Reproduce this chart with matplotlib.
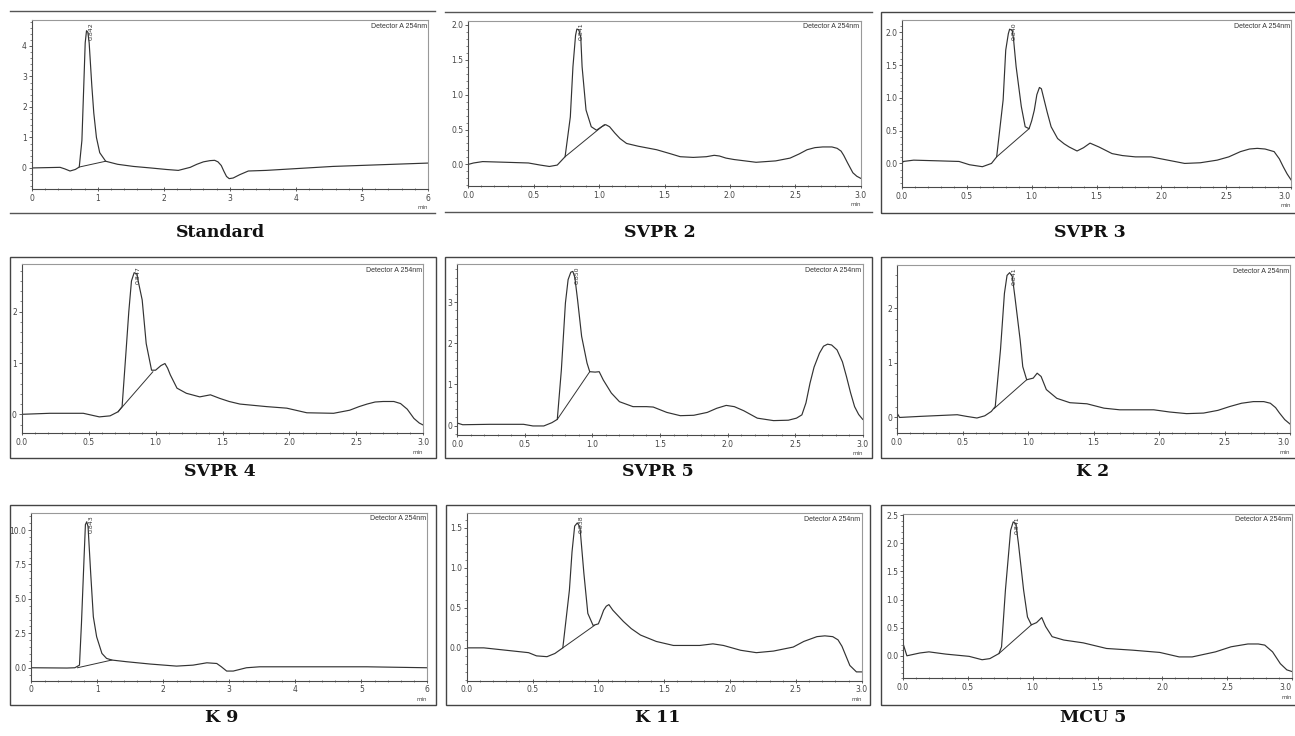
import matplotlib
matplotlib.use("Agg")
import numpy as np
import matplotlib.pyplot as plt
from matplotlib.lines import Line2D
from matplotlib.patches import Rectangle
from matplotlib.ticker import AutoMinorLocator, MultipleLocator

W, H = 1295, 736
DETECTOR = "Detector A 254nm"

# ---- chromatogram traces (time in min, absorbance) ----
std_t = [0.0, 0.43, 0.5, 0.58, 0.66, 0.72, 0.76, 0.79, 0.81, 0.83, 0.85, 0.87, 0.89,
         0.91, 0.94, 0.98, 1.03, 1.12, 1.3, 1.54, 1.8, 2.04, 2.22, 2.4, 2.5, 2.6,
         2.7, 2.77, 2.82, 2.87, 2.91, 2.95, 2.99, 3.05, 3.15, 3.28, 3.55, 4.56, 6.0]
std_y = [0.0, 0.02, -0.03, -0.1, -0.05, 0.03, 0.9, 2.8, 4.1, 4.5, 4.45, 4.1, 3.4,
         2.7, 1.8, 1.0, 0.5, 0.22, 0.12, 0.05, 0.0, -0.05, -0.08, 0.02, 0.12, 0.2,
         0.24, 0.25, 0.2, 0.08, -0.11, -0.28, -0.35, -0.33, -0.22, -0.1, -0.08,
         0.05, 0.16]
std_base_t = [0.72, 1.12]
std_base_y = [0.03, 0.22]

svpr2_t = [0.0, 0.04, 0.11, 0.29, 0.46, 0.55, 0.62, 0.68, 0.74, 0.78, 0.8, 0.82,
           0.83, 0.845, 0.86, 0.87, 0.9, 0.94, 0.98, 1.02, 1.05, 1.08, 1.12, 1.16,
           1.21, 1.3, 1.44, 1.55, 1.62, 1.72, 1.82, 1.88, 1.92, 1.97, 2.03, 2.2,
           2.35, 2.46, 2.53, 2.59, 2.65, 2.71, 2.78, 2.82, 2.85, 2.87, 2.9, 2.94,
           2.97, 3.0]
svpr2_y = [0.0, 0.02, 0.04, 0.03, 0.02, -0.01, -0.03, -0.01, 0.11, 0.68, 1.4, 1.85,
           1.94, 1.93, 1.82, 1.4, 0.78, 0.54, 0.49, 0.54, 0.57, 0.54, 0.45, 0.37,
           0.3, 0.26, 0.21, 0.15, 0.11, 0.1, 0.11, 0.13, 0.12, 0.09, 0.07, 0.03,
           0.05, 0.09, 0.15, 0.21, 0.24, 0.25, 0.25, 0.23, 0.19, 0.13, 0.02, -0.12,
           -0.17, -0.2]
svpr2_base_t = [0.74, 1.04]
svpr2_base_y = [0.11, 0.57]

svpr3_t = [0.0, 0.01, 0.09, 0.27, 0.44, 0.52, 0.62, 0.69, 0.73, 0.78, 0.8, 0.82,
           0.83, 0.85, 0.86, 0.88, 0.92, 0.95, 0.98, 1.0, 1.02, 1.04, 1.06, 1.075,
           1.09, 1.12, 1.15, 1.2, 1.25, 1.29, 1.35, 1.4, 1.45, 1.52, 1.62, 1.7,
           1.8, 1.92, 2.05, 2.18, 2.3, 2.43, 2.52, 2.61, 2.68, 2.74, 2.8, 2.87,
           2.91, 2.94, 2.97, 3.0]
svpr3_y = [0.0, 0.03, 0.05, 0.04, 0.03, -0.02, -0.05, 0.0, 0.1, 0.97, 1.73, 1.98,
           2.05, 2.03, 1.9, 1.48, 0.87, 0.56, 0.53, 0.65, 0.81, 1.05, 1.16, 1.14,
           1.02, 0.78, 0.56, 0.38, 0.3, 0.25, 0.19, 0.24, 0.31, 0.25, 0.15, 0.12,
           0.1, 0.1, 0.05, 0.0, 0.01, 0.05, 0.1, 0.18, 0.22, 0.23, 0.22, 0.18,
           0.07, -0.05, -0.16, -0.25]
svpr3_base_t = [0.73, 0.98]
svpr3_base_y = [0.1, 0.53]

svpr4_t = [0.0, 0.21, 0.46, 0.58, 0.66, 0.72, 0.75, 0.78, 0.8, 0.82, 0.84, 0.86,
           0.87, 0.9, 0.93, 0.97, 1.0, 1.04, 1.07, 1.09, 1.11, 1.16, 1.23, 1.33,
           1.41, 1.48, 1.55, 1.63, 1.83, 1.98, 2.13, 2.33, 2.45, 2.52, 2.58, 2.64,
           2.7, 2.78, 2.83, 2.88, 2.93, 2.97, 3.0]
svpr4_y = [0.0, 0.02, 0.02, -0.05, -0.03, 0.05, 0.15, 1.25, 2.0, 2.6, 2.76, 2.74,
           2.6, 2.23, 1.38, 0.86, 0.86, 0.95, 0.99, 0.9, 0.77, 0.51, 0.41, 0.34,
           0.38, 0.31, 0.25, 0.2, 0.15, 0.12, 0.03, 0.02, 0.08, 0.15, 0.2, 0.24,
           0.25, 0.25, 0.21, 0.1, -0.08, -0.17, -0.21]
svpr4_base_t = [0.72, 0.98]
svpr4_base_y = [0.05, 0.83]

svpr5_t = [0.0, 0.04, 0.24, 0.49, 0.56, 0.64, 0.7, 0.74, 0.77, 0.8, 0.82, 0.84,
           0.855, 0.87, 0.89, 0.92, 0.96, 0.98, 1.02, 1.05, 1.08, 1.14, 1.2, 1.3,
           1.4, 1.45, 1.55, 1.65, 1.75, 1.85, 1.92, 1.99, 2.05, 2.12, 2.22, 2.34,
           2.45, 2.51, 2.55, 2.58, 2.61, 2.64, 2.68, 2.71, 2.74, 2.77, 2.81, 2.85,
           2.88, 2.91, 2.94, 2.97, 3.0]
svpr5_y = [0.06, 0.02, 0.03, 0.03, -0.01, -0.01, 0.07, 0.15, 1.35, 2.98, 3.55,
           3.73, 3.75, 3.6, 3.06, 2.17, 1.52, 1.31, 1.3, 1.31, 1.11, 0.79, 0.58,
           0.46, 0.46, 0.45, 0.32, 0.24, 0.25, 0.32, 0.42, 0.49, 0.46, 0.36, 0.18,
           0.12, 0.13, 0.18, 0.26, 0.55, 1.03, 1.42, 1.76, 1.93, 1.98, 1.96, 1.84,
           1.55, 1.19, 0.8, 0.46, 0.27, 0.15]
svpr5_base_t = [0.74, 0.98]
svpr5_base_y = [0.15, 1.31]

k2_t = [0.0, 0.02, 0.18, 0.46, 0.53, 0.61, 0.67, 0.72, 0.75, 0.79, 0.82, 0.84,
        0.86, 0.88, 0.9, 0.94, 0.96, 0.99, 1.04, 1.07, 1.1, 1.14, 1.22, 1.32, 1.45,
        1.58, 1.7, 1.96, 2.08, 2.21, 2.34, 2.45, 2.54, 2.63, 2.72, 2.8, 2.85, 2.89,
        2.92, 2.96, 3.0]
k2_y = [0.08, 0.0, 0.02, 0.05, 0.02, -0.01, 0.03, 0.11, 0.2, 1.24, 2.27, 2.6,
        2.65, 2.58, 2.21, 1.42, 0.93, 0.69, 0.72, 0.81, 0.75, 0.51, 0.35, 0.27,
        0.25, 0.17, 0.14, 0.14, 0.1, 0.07, 0.08, 0.13, 0.2, 0.26, 0.29, 0.29, 0.26,
        0.18, 0.08, -0.04, -0.12]
k2_base_t = [0.74, 0.99]
k2_base_y = [0.16, 0.69]

k9_t = [0.0, 0.54, 0.66, 0.73, 0.76, 0.8, 0.82, 0.84, 0.86, 0.9, 0.94, 0.99, 1.07,
        1.14, 1.22, 1.44, 1.8, 2.2, 2.45, 2.66, 2.81, 2.88, 2.96, 3.06, 3.26, 3.46,
        4.07, 5.08, 6.0]
k9_y = [0.0, -0.02, 0.0, 0.19, 3.22, 8.06, 10.4, 10.6, 10.24, 6.85, 3.7, 2.25,
        1.04, 0.68, 0.56, 0.44, 0.27, 0.12, 0.19, 0.36, 0.31, 0.07, -0.24, -0.24,
        0.0, 0.07, 0.07, 0.07, 0.0]
k9_base_t = [0.7, 1.22]
k9_base_y = [0.0, 0.56]

k11_t = [0.0, 0.13, 0.3, 0.47, 0.53, 0.61, 0.67, 0.73, 0.78, 0.8, 0.82, 0.84, 0.86,
         0.89, 0.92, 0.96, 1.0, 1.02, 1.04, 1.06, 1.08, 1.11, 1.15, 1.19, 1.25,
         1.32, 1.44, 1.57, 1.77, 1.87, 1.95, 2.08, 2.2, 2.33, 2.48, 2.56, 2.66,
         2.72, 2.78, 2.82, 2.85, 2.88, 2.91, 2.96, 3.0]
k11_y = [0.0, 0.0, -0.03, -0.06, -0.1, -0.11, -0.07, 0.0, 0.72, 1.2, 1.52, 1.56,
         1.51, 0.93, 0.43, 0.28, 0.3, 0.38, 0.47, 0.52, 0.54, 0.47, 0.4, 0.33,
         0.24, 0.16, 0.08, 0.03, 0.03, 0.05, 0.03, -0.03, -0.06, -0.04, 0.01,
         0.08, 0.14, 0.15, 0.14, 0.1, 0.02, -0.1, -0.22, -0.3, -0.3]
k11_base_t = [0.73, 0.97]
k11_base_y = [0.0, 0.28]

mcu5_t = [0.0, 0.03, 0.13, 0.2, 0.33, 0.51, 0.61, 0.67, 0.74, 0.76, 0.79, 0.83,
          0.85, 0.87, 0.89, 0.93, 0.96, 0.99, 1.03, 1.07, 1.1, 1.15, 1.24, 1.39,
          1.57, 1.77, 1.98, 2.13, 2.23, 2.41, 2.53, 2.66, 2.74, 2.79, 2.85, 2.91,
          2.96, 3.0]
mcu5_y = [0.22, 0.0, 0.05, 0.07, 0.03, -0.01, -0.07, -0.05, 0.04, 0.16, 1.17,
          2.23, 2.38, 2.35, 2.0, 1.17, 0.69, 0.55, 0.59, 0.68, 0.52, 0.34, 0.28,
          0.23, 0.13, 0.1, 0.06, -0.02, -0.02, 0.07, 0.16, 0.21, 0.21, 0.19, 0.07,
          -0.14, -0.25, -0.28]
mcu5_base_t = [0.74, 0.99]
mcu5_base_y = [0.04, 0.55]

# ---- axis ticks and labels ----
x6_ticks = [0, 1, 2, 3, 4, 5, 6]
x6_labels = ["0", "1", "2", "3", "4", "5", "6"]
x3_ticks = [0.0, 0.5, 1.0, 1.5, 2.0, 2.5, 3.0]
x3_labels = ["0.0", "0.5", "1.0", "1.5", "2.0", "2.5", "3.0"]

std_yticks = [0, 1, 2, 3, 4]
svpr2_yticks = [0.0, 0.5, 1.0, 1.5, 2.0]
svpr3_yticks = [0.0, 0.5, 1.0, 1.5, 2.0]
svpr4_yticks = [0, 1, 2]
svpr5_yticks = [0, 1, 2, 3]
k2_yticks = [0, 1, 2]
k9_yticks = [0.0, 2.5, 5.0, 7.5, 10.0]
k11_yticks = [0.0, 0.5, 1.0, 1.5]
mcu5_yticks = [0.0, 0.5, 1.0, 1.5, 2.0, 2.5]

peak_labels = ["0.842", "0.841", "0.840", "0.847", "0.850", "0.841", "0.843", "0.838", "0.841"]
captions = ["Standard", "SVPR 2", "SVPR 3", "SVPR 4", "SVPR 5", "K 2", "K 9", "K 11", "MCU 5"]

LINE = "#333333"


def px_rect(l, t, r, b):
    return [l / W, 1 - b / H, (r - l) / W, (b - t) / H]


fig = plt.figure(figsize=(W / 100, H / 100), dpi=100, facecolor="white")

# trace data, x range, ticks, axes box px, ylim, frame box px, full frame?, caption centre px
panels = [
    (std_t, std_y, std_base_t, std_base_y, (0, 6), x6_ticks, x6_labels, std_yticks, "{:.0f}",
     (31.7, 20, 428, 189), (-0.69, 4.85), (10, 11, 435, 213), False, (220, 232)),
    (svpr2_t, svpr2_y, svpr2_base_t, svpr2_base_y, (0, 3), x3_ticks, x3_labels, svpr2_yticks, "{:.1f}",
     (468.3, 20.7, 860.7, 186), (-0.31, 2.06), (445, 12, 872, 212), False, (660, 232)),
    (svpr3_t, svpr3_y, svpr3_base_t, svpr3_base_y, (0, 3), x3_ticks, x3_labels, svpr3_yticks, "{:.1f}",
     (902, 20, 1291, 187), (-0.36, 2.19), (881, 12, 1320, 213), True, (1090, 232)),
    (svpr4_t, svpr4_y, svpr4_base_t, svpr4_base_y, (0, 3), x3_ticks, x3_labels, svpr4_yticks, "{:.0f}",
     (21.7, 264, 423.3, 433.3), (-0.37, 2.93), (10, 257, 436, 458), True, (220, 472)),
    (svpr5_t, svpr5_y, svpr5_base_t, svpr5_base_y, (0, 3), x3_ticks, x3_labels, svpr5_yticks, "{:.0f}",
     (457.3, 264, 862.7, 435), (-0.23, 3.93), (445, 257, 872, 458), True, (658, 472)),
    (k2_t, k2_y, k2_base_t, k2_base_y, (0, 3), x3_ticks, x3_labels, k2_yticks, "{:.0f}",
     (897, 265, 1290, 433.3), (-0.29, 2.79), (881, 257, 1320, 458), True, (1093, 472)),
    (k9_t, k9_y, k9_base_t, k9_base_y, (0, 6), x6_ticks, x6_labels, k9_yticks, "{:.1f}",
     (31.3, 512.7, 427.3, 680.7), (-0.94, 11.26), (10, 505, 436, 705), True, (222, 718)),
    (k11_t, k11_y, k11_base_t, k11_base_y, (0, 3), x3_ticks, x3_labels, k11_yticks, "{:.1f}",
     (466.7, 513.3, 861.7, 680.7), (-0.41, 1.68), (446, 505, 870, 705), True, (658, 718)),
    (mcu5_t, mcu5_y, mcu5_base_t, mcu5_base_y, (0, 3), x3_ticks, x3_labels, mcu5_yticks, "{:.1f}",
     (903, 514, 1292, 678.3), (-0.40, 2.52), (881, 505, 1320, 705), True, (1093, 718)),
]

for i, (t, y, bt, by, xlim, xt, xl, yt, yfmt, box, ylim, frame, full, cap) in enumerate(panels):
    # outer border of the scanned chromatogram
    fl, ft, fr, fb = frame
    if full:
        fig.add_artist(Rectangle((fl / W, 1 - fb / H), (fr - fl) / W, (fb - ft) / H,
                                 transform=fig.transFigure, fill=False,
                                 edgecolor="#444444", lw=1.0))
    else:
        for yy in (ft, fb):
            fig.add_artist(Line2D([fl / W, fr / W], [1 - yy / H, 1 - yy / H],
                                  transform=fig.transFigure, color="#555555", lw=1.0))

    ax = fig.add_axes(px_rect(*box))
    ax.plot(t, y, color=LINE, lw=0.85, solid_joinstyle="round")
    ax.plot(bt, by, color=LINE, lw=0.7)
    ax.set_xlim(*xlim)
    ax.set_ylim(*ylim)

    ax.set_xticks(xt)
    ax.set_xticklabels(xl)
    ax.set_yticks(yt)
    ax.set_yticklabels([yfmt.format(v) for v in yt])
    # right-hand panels are cut by the page edge: keep the last label inside
    if box[2] > W - 10:
        ax.get_xticklabels()[-1].set_horizontalalignment("right")
    ax.xaxis.set_minor_locator(MultipleLocator(0.2 if xlim[1] == 6 else 0.1))
    ax.yaxis.set_minor_locator(AutoMinorLocator(5))
    ax.tick_params(axis="x", which="major", direction="inout", length=3.5, width=0.6,
                   labelsize=5.5, colors="#444444", pad=1.5)
    ax.tick_params(axis="x", which="minor", direction="inout", length=2, width=0.5, colors="#555555")
    ax.tick_params(axis="y", which="major", direction="out", length=2.5, width=0.6,
                   labelsize=5.5, colors="#444444", pad=1)
    ax.tick_params(axis="y", which="minor", direction="out", length=1.3, width=0.5, colors="#555555")
    for side in ("left", "bottom"):
        ax.spines[side].set_color("#4a4a4a")
        ax.spines[side].set_linewidth(0.8)
    for side in ("top", "right"):
        ax.spines[side].set_color("#999999")
        ax.spines[side].set_linewidth(0.8)

    ax.text(0.997, 0.985, DETECTOR, transform=ax.transAxes, ha="right", va="top",
            fontsize=5, color="#333333", family="Liberation Sans")
    ax.annotate("min", xy=(1, 0), xycoords="axes fraction", xytext=(0, -13.5),
                textcoords="offset points", ha="right", va="center", fontsize=4,
                color="#444444")

    k = int(np.argmax(y))
    ax.annotate(peak_labels[i], xy=(t[k], 1), xycoords=("data", "axes fraction"),
                xytext=(1.2, -1.5), textcoords="offset points", rotation=90,
                ha="left", va="top", fontsize=4.5, color="#333333")

    fig.text(cap[0] / W, 1 - cap[1] / H, captions[i], ha="center", va="center",
             family="DejaVu Serif", fontweight="bold", fontsize=12.5, color="#111111")

fig.savefig("out.png", dpi=100, facecolor="white")
